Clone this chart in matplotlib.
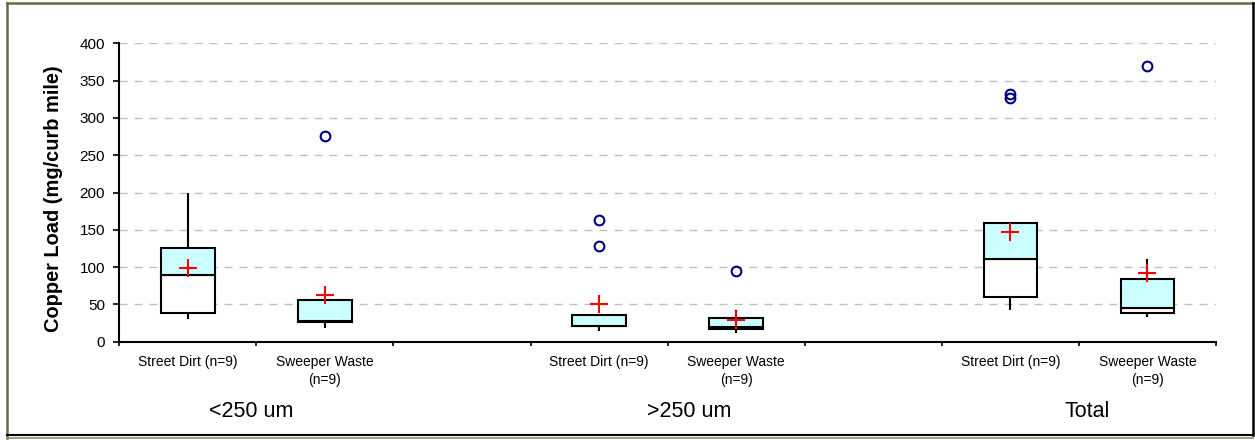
import matplotlib
matplotlib.use("Agg")
import matplotlib.pyplot as plt
import matplotlib.transforms as mtransforms
from matplotlib.lines import Line2D

plt.rcParams['font.family'] = ['Liberation Sans', 'DejaVu Sans']

# ---- data ----
groups = ["<250 um", ">250 um", "Total"]
box_labels = ["Street Dirt (n=9)", "Sweeper Waste\n(n=9)"]
q1 = [38.5, 26.5, 21.0, 17.0, 60.3, 38.0]
median = [89.0, 28.0, 21.0, 19.5, 110.9, 45.6]
q3 = [125.2, 55.5, 36.2, 31.3, 159.2, 84.5]
whislo = [30.4, 18.8, 14.3, 12.0, 42.5, 33.1]
whishi = [200.0, 55.5, 36.2, 43.0, 159.2, 111.3]
means = [98.4, 62.6, 50.5, 29.0, 146.7, 91.7]
outliers = [[], [275.8], [162.7, 128.7], [95.2], [331.7, 327.2], [369.7]]
yticks = [0, 50, 100, 150, 200, 250, 300, 350, 400]
group_label_x = [0.461, 3.658, 6.563]

W, H = 1255, 440
fig = plt.figure(figsize=(W / 100, H / 100), dpi=100)
ax = fig.add_axes([119.3 / W, 1 - 341.7 / H, (1216 - 119.3) / W, (341.7 - 43.3) / H])

# positions: 3 groups x 2 boxes, blank slot between groups
positions = []
labels_at = []
for g in range(len(groups)):
    for j in range(len(box_labels)):
        positions.append(g * 3 + j)
        labels_at.append(box_labels[j])
ncat = len(groups) * 3 - 1

bw = 0.39
for i, x in enumerate(positions):
    ax.bar(x, median[i] - q1[i], bottom=q1[i], width=bw, color='white',
           edgecolor='black', linewidth=1.5, zorder=3)
    ax.bar(x, q3[i] - median[i], bottom=median[i], width=bw, color='#CCFFFF',
           edgecolor='black', linewidth=1.5, zorder=3)
    ax.vlines(x, whislo[i], q1[i], color='black', linewidth=1.5, zorder=2)
    ax.vlines(x, q3[i], whishi[i], color='black', linewidth=1.5, zorder=2)
    if outliers[i]:
        ax.plot([x] * len(outliers[i]), outliers[i], linestyle='none', marker='o',
                markersize=7, markerfacecolor='none', markeredgecolor='#000080',
                markeredgewidth=1.5, zorder=4)
ax.plot(positions, means, linestyle='none', marker='+', markersize=13,
        markeredgewidth=1.5, color='red', zorder=5)

ax.set_xlim(-0.5, ncat - 0.5)
ax.set_ylim(0, 400)
ax.set_yticks(yticks)
ax.yaxis.grid(True, color='#c0c0c0', linewidth=1.0, linestyle=(0, (5.8, 5.0)))
ax.set_axisbelow(True)

for s in ['top', 'right']:
    ax.spines[s].set_visible(False)
for s in ['left', 'bottom']:
    ax.spines[s].set_linewidth(1.5)
    ax.spines[s].set_color('black')

ax.tick_params(axis='y', direction='out', length=4.3, width=1.2, pad=6, labelsize=11)

# x: boundary ticks (major, no labels), category labels (minor, no tick marks)
ax.set_xticks([k - 0.5 for k in range(ncat + 1)])
ax.set_xticklabels([])
ax.tick_params(axis='x', which='major', direction='out', length=3, width=1.2)
ax.set_xticks(positions, minor=True)
ax.set_xticklabels(labels_at, minor=True)
ax.tick_params(axis='x', which='minor', length=0, pad=9.5, labelsize=10)
for lab in ax.get_xticklabels(minor=True):
    lab.set_linespacing(1.35)

trans = mtransforms.blended_transform_factory(ax.transData, ax.transAxes)
for g, name in enumerate(groups):
    ax.text(group_label_x[g], -0.2346, name, transform=trans, ha='center',
            va='center', fontsize=15.5)

fig.text(54 / W, 1 - 198.7 / H, "Copper Load (mg/curb mile)", rotation=90,
         ha='center', va='center', fontsize=14.4, fontweight='bold')

# figure frame
olive = '#5f7040'
def fl(x0, y0, x1, y1, c, lw):
    fig.add_artist(Line2D([x0 / W, x1 / W], [1 - y0 / H, 1 - y1 / H],
                          transform=fig.transFigure, color=c, linewidth=lw))
fl(6.7, 3.5, 6.7, 438, olive, 1.8)
fl(6.7, 3.5, 1253, 3.5, olive, 1.8)
fl(1252.7, 3.5, 1252.7, 435, 'black', 1.8)
fl(6.7, 435, 1253, 435, 'black', 1.5)
fl(6.7, 438, 1253, 438, '#8a9070', 1.2)

fig.savefig("out.png", dpi=100)
